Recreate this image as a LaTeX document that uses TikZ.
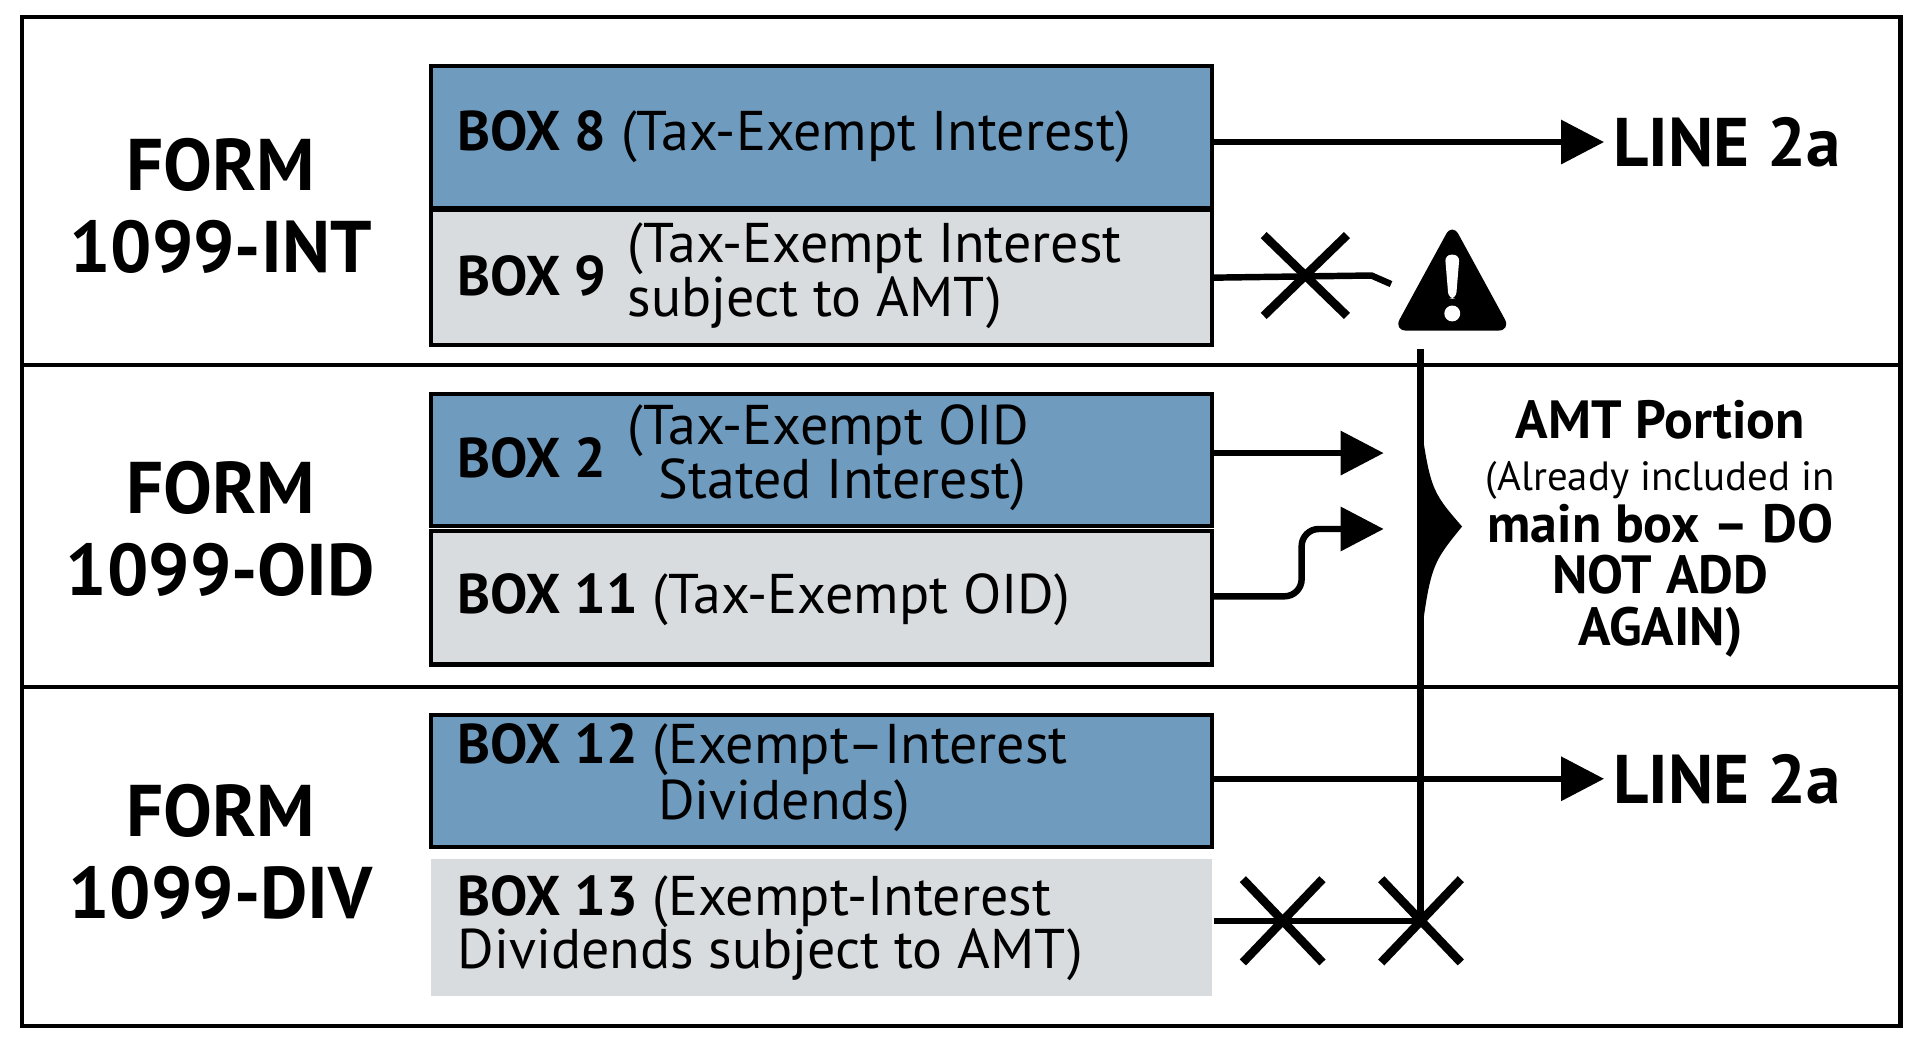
\documentclass[tikz,border=0pt]{standalone}
\usepackage{fontspec}
\setmainfont{PT Sans}
\usetikzlibrary{positioning,arrows.meta}
\definecolor{boxblue}{HTML}{6F9BBE}
\definecolor{boxgray}{HTML}{D9DCDF}
\begin{document}
\begin{tikzpicture}[x=0.02cm,y=-0.02cm,line width=2pt]
  \tikzstyle{blue box}=[draw=black,fill=boxblue,minimum width=12.76cm,minimum height=2.2cm,anchor=north west,inner sep=0pt]
  \tikzstyle{gray box}=[draw=black,fill=boxgray,minimum width=12.76cm,minimum height=2.2cm,anchor=north west,inner sep=0pt]
  \tikzstyle{form}=[font=\fontsize{34}{38}\selectfont\bfseries,align=center]
  \tikzstyle{boxtext}=[font=\fontsize{26}{25}\selectfont,anchor=west]
  \tikzstyle{flow}=[line width=3pt,-{Triangle[length=20pt,width=20pt]}]
  \tikzstyle{plain}=[line width=3pt]
  \tikzstyle{cross}=[line width=4pt]
  \useasboundingbox (0,0) rectangle (1568,855);
  % frame and rows
  \draw (18,14) rectangle (1552,838);
  \draw (18,298) -- (1552,298);
  \draw (18,561) -- (1552,561);

  % forms
  \node [form] (fint) at (180,168) {FORM\\1099-INT};
  \node [form] (foid) at (180,432) {FORM\\1099-OID};
  \node [form] (fdiv) at (180,696) {FORM\\1099-DIV};

  % boxes
  \node [blue box,minimum height=2.32cm] (b8) at (350,52) {};
  \node [gray box] (b9) at (350,170) {};
  \node [blue box,minimum height=2.16cm] (b2) at (350,320) {};
  \node [gray box,minimum height=2.18cm] (b11) at (350,432) {};
  \node [blue box,minimum height=2.16cm] (b12) at (350,582) {};
  \node [gray box,draw=none,minimum height=2.24cm] (b13) at (350,700) {};

  \node [boxtext] at (366,112) {\textbf{BOX 8} (Tax-Exempt Interest)};
  \node [boxtext] at (366,225) {\textbf{BOX 9}};
  \node [boxtext,align=left] at (505,225) {(Tax-Exempt Interest\\subject to AMT)};
  \node [boxtext] at (366,374) {\textbf{BOX 2}};
  \node [boxtext,align=center] at (505,374) {(Tax-Exempt OID\\\hspace*{0.5em}Stated Interest)};
  \node [boxtext] at (366,490) {\textbf{BOX 11} (Tax-Exempt OID)};
  \node [boxtext] at (366,612) {\textbf{BOX 12} (Exempt–Interest};
  \node [boxtext] at (530,658) {Dividends)};
  \node [boxtext,align=left] at (366,758) {\textbf{BOX 13} (Exempt-Interest\\Dividends subject to AMT)};

  % targets
  \node [font=\fontsize{32}{32}\selectfont\bfseries,anchor=west] (l1) at (1310,116) {LINE 2a};
  \node [font=\fontsize{32}{32}\selectfont\bfseries,anchor=west] (l2) at (1310,636) {LINE 2a};
  \node [align=center,font=\fontsize{25}{24}\selectfont] (amt) at (1356,432)
    {\textbf{AMT Portion}\\{\fontsize{19}{23}\selectfont(Already included in}\\\textbf{main box – DO}\\\textbf{NOT ADD}\\\textbf{AGAIN)}};

  \coordinate (c9) at (1136,232);
  \coordinate (c2) at (1130,370);
  \coordinate (c11) at (1130,432);
  \coordinate (ctop) at (1160,285);
  \coordinate (cbot) at (1160,752);

  % connectors
  \draw [flow] (b8.east |- l1.west) -- (l1.west);
  \draw [flow] (b12.east |- l2.west) -- (l2.west);
  \draw [plain] (b9.east) -- (1120,225) -- (c9);
  \draw [flow] (b2.east |- c2) -- (c2);
  \draw [flow,rounded corners=8pt] (b11.east |- 0,487) -- (1063,487) -- (1063,432) -- (c11);
  \draw [plain] (b13.east |- cbot) -- (cbot);
  \draw [plain] (ctop) -- (cbot);
  \fill (1158,330) .. controls (1168,400) .. (1194,430) .. controls (1168,462) .. (1158,540) -- cycle;

  % crosses
  \draw [cross] (1032,192) -- (1100,258) (1100,192) -- (1032,258);
  \draw [cross] (1015,718) -- (1080,786) (1080,718) -- (1015,786);
  \draw [cross] (1128,718) -- (1193,786) (1193,718) -- (1128,786);

  % warning sign
  \fill [rounded corners=6pt] (1186,182) -- (1234,270) -- (1138,270) -- cycle;
  \fill [white,rounded corners=3pt] (1180,208) -- (1192,208) -- (1189,244) -- (1183,244) -- cycle;
  \fill [white] (1186,256) circle (6.5);
\end{tikzpicture}
\end{document}
